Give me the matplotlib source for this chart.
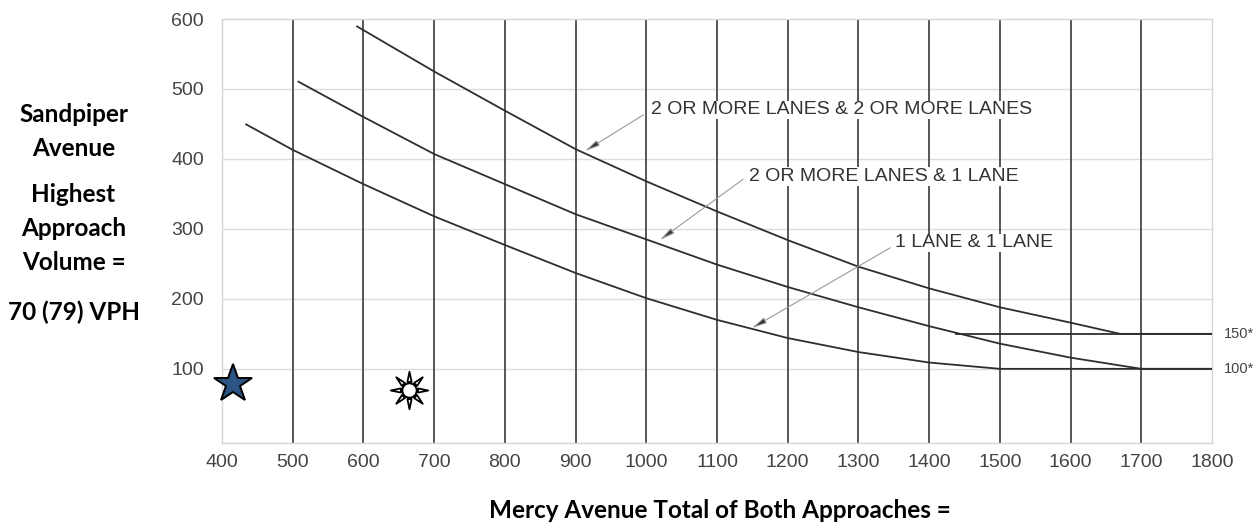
import numpy as np
import matplotlib
matplotlib.use("Agg")
import matplotlib.pyplot as plt
from matplotlib.path import Path

# ---- data -------------------------------------------------------------
# Warrant curves: minor street highest-approach volume (VPH) vs. major street total (VPH)
one_lane_x = [433, 500, 600, 700, 800, 900, 1000, 1100, 1200, 1300, 1400, 1500, 1800]
one_lane_y = [450, 413, 364, 318, 277, 237, 201, 170, 144, 124, 109, 100, 100]

two_one_x = [507, 600, 700, 800, 900, 1000, 1100, 1200, 1300, 1400, 1500, 1600, 1700, 1800]
two_one_y = [511, 460, 407, 364, 321, 285, 249, 217, 188, 161, 136, 116, 100, 100]

two_two_x = [590, 700, 800, 900, 1000, 1100, 1200, 1300, 1400, 1500, 1600, 1670, 1800]
two_two_y = [590, 525, 469, 414, 368, 325, 284, 246, 215, 188, 166, 150, 150]

floor_150_x = [1437, 1800]
floor_150_y = [150, 150]

curve_labels = ["2 OR MORE LANES & 2 OR MORE LANES",
                "2 OR MORE LANES & 1 LANE",
                "1 LANE & 1 LANE"]
# (text x, text y, arrow tail x, tail y, arrow tip x, tip y)
label_spots = [(1007, 470, 996, 463, 913, 411),
               (1145, 375, 1137, 371, 1019, 284),
               (1352, 280, 1345, 273, 1149, 158)]

floor_labels = ["150*", "100*"]
floor_values = [150, 100]

x_ticks = list(range(400, 1900, 100))
y_ticks = [100, 200, 300, 400, 500, 600]

# Observed volumes: AM (sun) and PM (star)
am_point = (665, 70)
pm_point = (415, 79)

left_lines = ["Sandpiper", "Avenue", "Highest", "Approach", "Volume =", "70 (79) VPH"]
x_title = "Mercy Avenue Total of Both Approaches ="

# ---- figure -----------------------------------------------------------
W, H = 1258, 523
fig = plt.figure(figsize=(W / 100, H / 100), dpi=100)
fig.patch.set_facecolor("white")
ax = fig.add_axes([222 / W, 1 - 443 / H, (1212 - 222) / W, (443 - 19) / H])

ax.set_xlim(400, 1800)
ax.set_ylim(-6, 600)

sans = ["Liberation Sans", "DejaVu Sans"]
bold_font = ["Lato", "DejaVu Sans"]
tick_col = "#444444"

# light horizontal guides, dark vertical guides
for yv in y_ticks[:-1]:
    ax.axhline(yv, color="#dcdcdc", lw=1.0, zorder=1)
for xv in x_ticks[1:-1]:
    ax.axvline(xv, color="#3a3a3a", lw=1.2, zorder=2)

for s in ax.spines.values():
    s.set_color("#d6d6d6")
    s.set_linewidth(1.0)

ax.set_xticks(x_ticks)
ax.set_yticks(y_ticks)
ax.tick_params(length=0, labelsize=14, colors=tick_col)
ax.tick_params(axis="x", pad=8)
ax.tick_params(axis="y", pad=13)
for lab in ax.get_xticklabels() + ax.get_yticklabels():
    lab.set_family(sans)

curve_kw = dict(color="#2e2e2e", lw=1.3, zorder=3, solid_capstyle="butt",
                solid_joinstyle="round")
ax.plot(one_lane_x, one_lane_y, **curve_kw)
ax.plot(two_one_x, two_one_y, **curve_kw)
ax.plot(two_two_x, two_two_y, **curve_kw)
ax.plot(floor_150_x, floor_150_y, **curve_kw)

for txt, (tx, ty, ax0, ay0, ax1, ay1) in zip(curve_labels, label_spots):
    ax.text(tx, ty, txt, ha="left", va="center", fontsize=14, color="#333333",
            family=sans, zorder=5,
            bbox=dict(facecolor="white", edgecolor="none", pad=0.5))
    ax.annotate("", xy=(ax1, ay1), xytext=(ax0, ay0), zorder=4,
                arrowprops=dict(arrowstyle="-|>,head_length=0.9,head_width=0.18",
                                lw=0.8, edgecolor="#9a9a9a", facecolor="#333333",
                                shrinkA=0, shrinkB=0))

for txt, yv in zip(floor_labels, floor_values):
    ax.text(1.012, yv, txt, transform=ax.get_yaxis_transform(), ha="left",
            va="center", fontsize=10.5, color=tick_col, family=sans)

# PM marker: filled star
ax.plot(*pm_point, marker="*", markersize=29, markerfacecolor="#2b5383",
        markeredgecolor="black", markeredgewidth=1.4, zorder=6, clip_on=False)

# AM marker: sun (circle with eight triangular rays)
pieces = [Path.circle((0, 0), 0.38)]
for k in range(8):
    a = np.pi / 2 + k * np.pi / 4
    half = 0.24
    r0, r1 = 0.47, 1.0
    p0 = (r0 * np.cos(a - half), r0 * np.sin(a - half))
    p1 = (r1 * np.cos(a), r1 * np.sin(a))
    p2 = (r0 * np.cos(a + half), r0 * np.sin(a + half))
    pieces.append(Path([p0, p1, p2, p0],
                       [Path.MOVETO, Path.LINETO, Path.LINETO, Path.CLOSEPOLY]))
sun = Path.make_compound_path(*pieces)
ax.plot(*am_point, marker=sun, markersize=27, markerfacecolor="white",
        markeredgecolor="black", markeredgewidth=1.3, zorder=6, clip_on=False)

# side and bottom titles
left_y = [115, 149, 194, 228, 263, 312]
for txt, py in zip(left_lines, left_y):
    fig.text(73.5 / W, 1 - py / H, txt, ha="center", va="center",
             fontsize=17.5, fontweight="bold", family=bold_font, color="black")

fig.text(719.5 / W, 1 - 511 / H, x_title, ha="center", va="center",
         fontsize=17.5, fontweight="bold", family=bold_font, color="black")

fig.savefig("out.png", dpi=100, facecolor="white")
